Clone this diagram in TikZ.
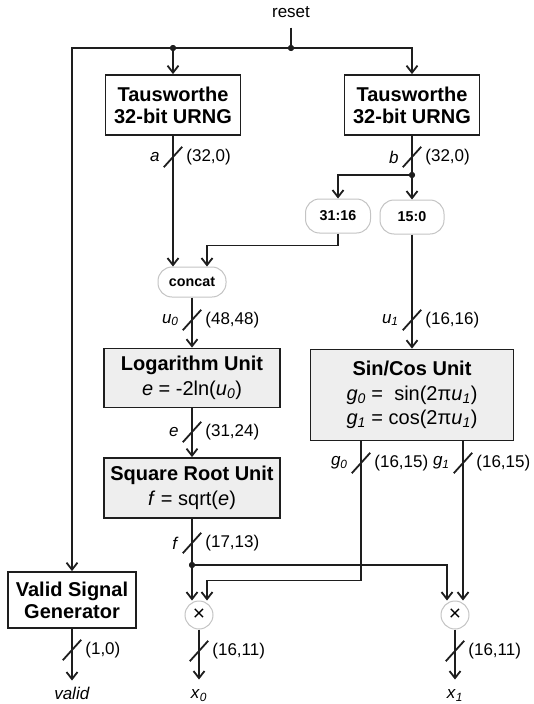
\documentclass[tikz,border=0pt]{standalone}
\usepackage{fontspec}
\setmainfont{Liberation Sans}
\usetikzlibrary{arrows.meta}

\newcommand{\sig}[2]{\textit{#1}\textsubscript{\textit{#2}}}
\definecolor{fillgrau}{HTML}{EEEEEE}
\definecolor{randgrau}{HTML}{C4C4C4}
\definecolor{strich}{HTML}{1E1E1E}

\tikzset{
  leitung/.style={draw=strich, line width=1.8pt},
  pfeil/.style={leitung, -{Straight Barb[length=7pt,width=11pt]}},
  block/.style={leitung, rectangle, align=center, inner sep=0pt, fill=white,
    font=\fontsize{20}{22}\selectfont\bfseries},
  einheit/.style={leitung, rectangle, align=center, inner sep=0pt, fill=fillgrau,
    font=\fontsize{20}{24.5}\selectfont},
  bits/.style={draw=randgrau, line width=1pt, rounded corners=14pt, inner sep=0pt,
    fill=white, font=\fontsize{14.3}{16}\selectfont\bfseries},
  mal/.style={circle, draw=randgrau, line width=1pt, minimum size=28pt, inner sep=0pt,
    fill=white, font=\fontsize{21}{21}\selectfont},
  punkt/.style={circle, fill=strich, inner sep=0pt, minimum size=6pt},
  bus/.style={inner sep=0pt, minimum width=18pt, minimum height=20pt},
  anschluss/.style={inner sep=0pt, outer sep=7pt, text height=12pt, text depth=3pt,
    font=\fontsize{17}{17}\selectfont},
  every label/.style={inner sep=0pt, font=\fontsize{17}{17}\selectfont}
}

\begin{document}
\begin{tikzpicture}[x=1pt, y=-1pt, label distance=4pt]
\useasboundingbox (0,0) rectangle (533,704);
% Bloecke
\node[block, minimum width=135pt, minimum height=60pt] (tauA) at (173,105) {Tausworthe\\32-bit URNG};
\node[block, minimum width=135pt, minimum height=60pt] (tauB) at (412,105) {Tausworthe\\32-bit URNG};
\node[bits, minimum width=65pt, minimum height=34pt] (hi) at (338,216) {31:16};
\node[bits, minimum width=64pt, minimum height=34pt] (lo) at (412,217) {15:0};
\node[bits, minimum width=68pt, minimum height=30pt] (concat) at (192,282) {concat};
\node[einheit, minimum width=176pt, minimum height=59pt] (log) at (192,378)
  {\textbf{Logarithm Unit}\\\textit{e} = -2ln(\sig{u}{0})};
\node[einheit, minimum width=176pt, minimum height=60pt] (sqrt) at (192,488)
  {\textbf{Square Root Unit}\\\textit{f} = sqrt(\textit{e})};
\node[einheit, minimum width=203pt, minimum height=91pt] (sincos) at (412,395)
  {\textbf{Sin/Cos Unit}\\\sig{g}{0} = \ sin(2π\sig{u}{1})\\\sig{g}{1} = cos(2π\sig{u}{1})};
\node[block, minimum width=128pt, minimum height=56pt] (valid) at (72,600) {Valid Signal\\Generator};
\node[mal] (m0) at (199,615) {×};
\node[mal] (m1) at (455,615) {×};
% Punkte
\node[punkt] (r) at (291,48) {};
\node[punkt] (ra) at (173,48) {};
\node[punkt] (bs) at (412,175) {};
\node[punkt] (fs) at (192,565) {};
% Busbreiten
\node[bus, label=left:{\textit{a}}, label=right:{(32,0)}] (ba) at (173,157) {};
\node[bus, label=left:{\textit{b}}, label=right:{(32,0)}] (bb) at (412,157) {};
\node[bus, label=left:{\sig{u}{0}}, label=right:{(48,48)}] (bu0) at (192,320) {};
\node[bus, label=left:{\sig{u}{1}}, label=right:{(16,16)}] (bu1) at (412,320) {};
\node[bus, label=left:{\textit{e}}, label=right:{(31,24)}] (be) at (192,432) {};
\node[bus, label=left:{\sig{g}{0}}, label=right:{(16,15)}] (bg0) at (361,463) {};
\node[bus, label=left:{\sig{g}{1}}, label=right:{(16,15)}] (bg1) at (463,463) {};
\node[bus, label=left:{\textit{f}}, label=right:{(17,13)}] (bf) at (192,543) {};
\node[bus, label=right:{(1,0)}] (bv) at (72,650) {};
\node[bus, label=right:{(16,11)}] (bx0) at (199,651) {};
\node[bus, label=right:{(16,11)}] (bx1) at (455,651) {};
% Beschriftungen
\node[anschluss] (reset) at (291,13) {reset};
\node[anschluss] (out) at (72,695) {\textit{valid}};
\node[anschluss] (x0) at (199,694) {\sig{x}{0}};
\node[anschluss] (x1) at (455,694) {\sig{x}{1}};
% Pfeile
\draw[leitung] (reset) -- (r);
\draw[pfeil] (r) -| (tauB);
\draw[pfeil] (r) -| (valid);
\draw[pfeil] (ra) -- (tauA);
\draw[pfeil] (tauA) -- (tauA |- concat.north);
\draw[leitung] (tauB) -- (bs);
\draw[pfeil] (bs) -- (lo);
\draw[pfeil] (bs) -| (hi);
\draw[pfeil] (hi.south) -- ++(0,12) -| ([xshift=15pt]concat.north);
\draw[pfeil] (concat) -- (log);
\draw[pfeil] (log) -- (sqrt);
\draw[leitung] (sqrt) -- (fs);
\draw[pfeil] (fs) -- (fs |- m0.north);
\draw[pfeil] (fs) -| ([xshift=-8pt]m1.north);
\draw[pfeil] (lo) -- (sincos);
\draw[pfeil] (bg0 |- sincos.south) -- ++(0,139) -| ([xshift=8pt]m0.north);
\draw[pfeil] (bg1 |- sincos.south) -- (bg1 |- m1.north);
\draw[pfeil] (valid) -- (out);
\draw[pfeil] (m0) -- (x0);
\draw[pfeil] (m1) -- (x1);
% Querstriche
\foreach \b in {ba,bb,bu0,bu1,be,bg0,bg1,bf,bv,bx0,bx1}
  \draw[leitung] (\b.south west) -- (\b.north east);
% Punkte oben drauf
\foreach \p in {r,ra,bs,fs}
  \fill[strich] (\p) circle (3pt);
\end{tikzpicture}
\end{document}
